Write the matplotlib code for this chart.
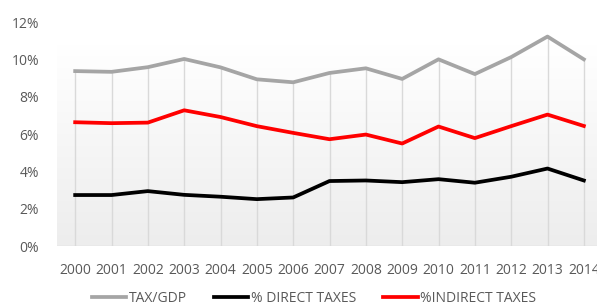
import matplotlib
matplotlib.use("Agg")
import matplotlib.pyplot as plt
import numpy as np
from matplotlib.colors import LinearSegmentedColormap

years = ["2000", "2001", "2002", "2003", "2004", "2005", "2006", "2007",
         "2008", "2009", "2010", "2011", "2012", "2013", "2014"]
tax_gdp = [9.37, 9.33, 9.58, 10.02, 9.57, 8.93, 8.77, 9.27, 9.52, 8.95,
           10.0, 9.21, 10.12, 11.22, 10.0]
direct = [2.73, 2.73, 2.94, 2.74, 2.64, 2.51, 2.60, 3.48, 3.51, 3.42,
          3.58, 3.39, 3.71, 4.15, 3.51]
indirect = [6.63, 6.58, 6.61, 7.27, 6.91, 6.42, 6.06, 5.72, 5.97, 5.49,
            6.40, 5.78, 6.42, 7.04, 6.43]
yticks = [0, 2, 4, 6, 8, 10, 12]
ytick_labels = ["0%", "2%", "4%", "6%", "8%", "10%", "12%"]

plt.rcParams['font.family'] = ['Open Sans', 'DejaVu Sans']

W, H = 597, 307
fig = plt.figure(figsize=(W / 100, H / 100), dpi=100)
left, right, top, bottom = 57, 602, 22, 246
ax = fig.add_axes([left / W, (H - bottom) / H, (right - left) / W, (bottom - top) / H])
ax.set_xlim(-0.5, len(years) - 0.5)
ax.set_ylim(0, 12)

x = np.arange(len(years))

# gradient background
cmap = LinearSegmentedColormap.from_list("g", ["#ededed", "#ffffff"])
grad = np.linspace(0, 1, 256).reshape(-1, 1)
grad_top = (bottom - 45) / ((bottom - top) / 12)
ax.imshow(grad, extent=(-0.5, len(years) - 0.5, 0, grad_top), origin="lower",
          cmap=cmap, aspect="auto", zorder=0)

# vertical gridlines up to TAX/GDP line
ax.vlines(x, 0, tax_gdp, colors="#d9d9d9", linewidth=1.0, zorder=1)
ax.axhline(0, color="#d9d9d9", linewidth=1.0, zorder=1)

ax.plot(x, tax_gdp, color="#a5a5a5", linewidth=2.7, label="TAX/GDP", zorder=3)
ax.plot(x, direct, color="#000000", linewidth=2.7, label="% DIRECT TAXES", zorder=3)
ax.plot(x, indirect, color="#ff0000", linewidth=2.7, label="%INDIRECT TAXES", zorder=3)

for s in ax.spines.values():
    s.set_visible(False)
ax.set_xticks(x)
ax.set_xticklabels(years)
ax.set_yticks(yticks)
ax.set_yticklabels(ytick_labels)
ax.tick_params(axis="both", length=0, labelsize=10, labelcolor="#595959")
ax.tick_params(axis="x", pad=12)
ax.tick_params(axis="y", pad=13)

leg = fig.legend(loc="center", bbox_to_anchor=(314 / W, (H - 298) / H), ncol=3,
                 frameon=False, fontsize=10, handlelength=2.5, handletextpad=0.2,
                 columnspacing=1.9, labelcolor="#595959")
fig.savefig("out.png", dpi=100)
